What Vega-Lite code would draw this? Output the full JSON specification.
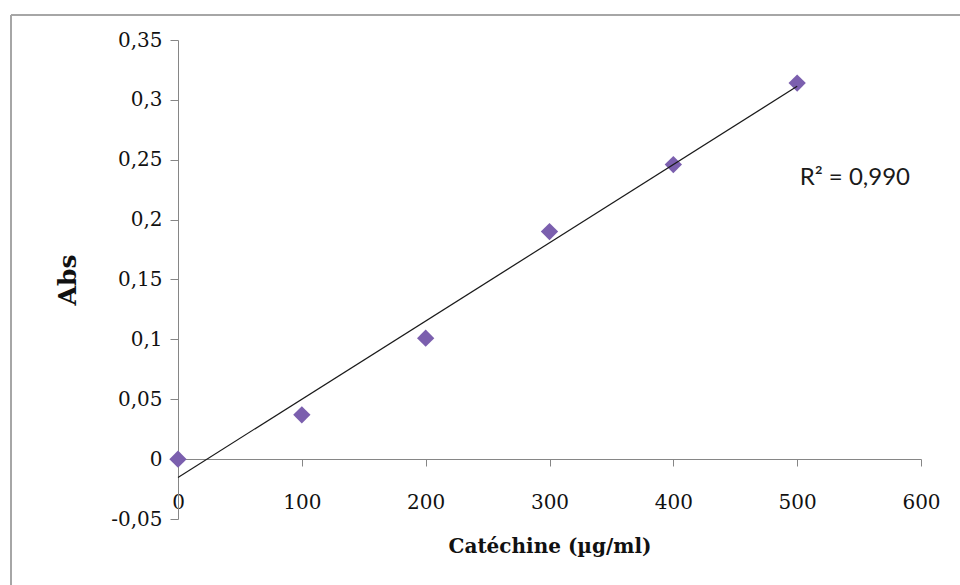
{
  "$schema": "https://vega.github.io/schema/vega-lite/v6.json",
  "width": 949,
  "height": 570,
  "autosize": {"type": "none"},
  "padding": {"left": 11, "top": 15, "right": 0, "bottom": 0},
  "background": "white",
  "config": {
    "view": {"stroke": "#a6a6a6", "strokeWidth": 2, "strokeDash": [949, 1519, 570, 0]},
    "locale": {"number": {"decimal": ",", "thousands": " ", "grouping": [3], "currency": ["", " €"], "minus": "-"}},
    "axis": {
      "grid": false,
      "domainColor": "#868686",
      "tickColor": "#868686",
      "domainWidth": 1,
      "tickWidth": 1,
      "labelFont": "DejaVu Serif",
      "labelFontSize": 20,
      "labelColor": "#111111",
      "labelFlush": false,
      "titleColor": "#111111",
      "titleFont": "DejaVu Serif"
    }
  },
  "datasets": {
    "points": [
      {"conc": 0, "abs": 0},
      {"conc": 100, "abs": 0.037},
      {"conc": 200, "abs": 0.101},
      {"conc": 300, "abs": 0.19},
      {"conc": 400, "abs": 0.246},
      {"conc": 500, "abs": 0.314}
    ],
    "note": [
      {"conc": 502, "abs": 0.235, "label": "R² = 0,990"}
    ]
  },
  "layer": [
    {
      "data": {"name": "points"},
      "mark": {"type": "point", "shape": "diamond", "filled": true, "size": 300, "color": "#7b5fae", "opacity": 1},
      "encoding": {
        "x": {
          "field": "conc", "type": "quantitative",
          "scale": {"domain": [0, 600], "range": [167, 910], "nice": false, "zero": false},
          "axis": {
            "orient": "bottom", "offset": -126,
            "values": [0, 100, 200, 300, 400, 500, 600],
            "format": "d",
            "tickSize": 7,
            "labelPadding": 26,
            "title": "Catéchine (µg/ml)",
            "titleFontSize": 20,
            "titleFontWeight": "bold",
            "titlePadding": 24
          }
        },
        "y": {
          "field": "abs", "type": "quantitative",
          "scale": {"domain": [-0.05, 0.35], "range": [504, 25], "nice": false, "zero": false},
          "axis": {
            "orient": "left", "offset": -167,
            "values": [-0.05, 0, 0.05, 0.1, 0.15, 0.2, 0.25, 0.3, 0.35],
            "format": ".2~f",
            "tickSize": 8,
            "labelPadding": 8,
            "title": "Abs",
            "titleFontSize": 25,
            "titleFontWeight": "bold",
            "titlePadding": 30
          }
        }
      }
    },
    {
      "data": {"name": "points"},
      "transform": [{"regression": "abs", "on": "conc", "method": "linear", "extent": [0, 500]}],
      "mark": {"type": "line", "color": "#1a1a1a", "strokeWidth": 1.2},
      "encoding": {
        "x": {"field": "conc", "type": "quantitative"},
        "y": {"field": "abs", "type": "quantitative"}
      }
    },
    {
      "data": {"name": "note"},
      "mark": {"type": "text", "align": "left", "baseline": "middle", "font": "Lato", "fontSize": 24, "color": "#1a1a1a"},
      "encoding": {
        "x": {"field": "conc", "type": "quantitative"},
        "y": {"field": "abs", "type": "quantitative"},
        "text": {"field": "label"}
      }
    }
  ]
}
